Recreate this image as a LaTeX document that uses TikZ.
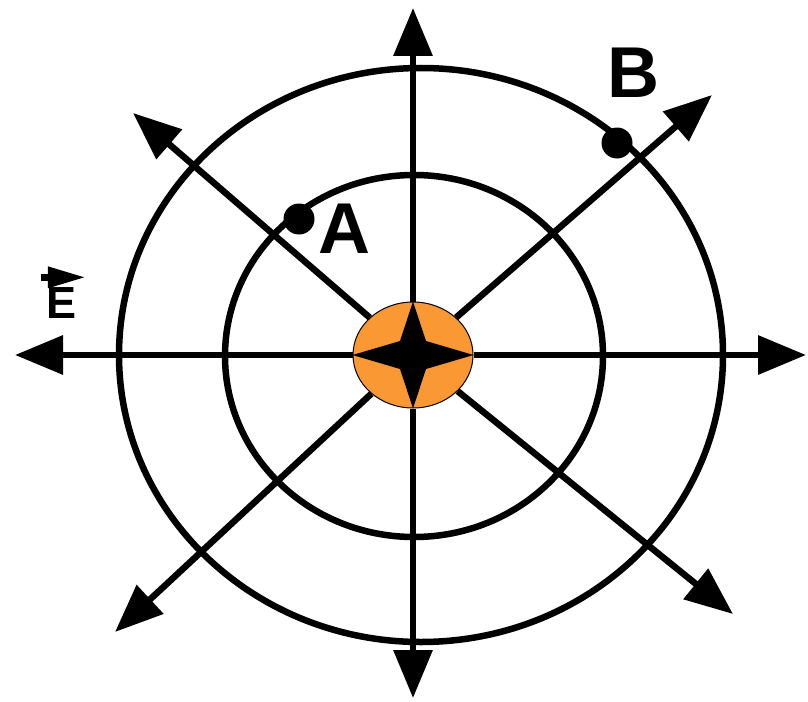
\documentclass[tikz,border=0pt]{standalone}
\usepackage{fontspec}
\setmainfont{Liberation Sans}
\usetikzlibrary{arrows.meta,shapes.geometric}
\begin{document}
\begin{tikzpicture}[x=1pt,y=-1pt,
  ring/.style={line width=6.5pt},
  ray/.style={line width=6.5pt,-{Triangle[length=48pt,width=38pt]}},
  pt/.style={circle,fill=black,inner sep=0pt,minimum size=31pt},
  lbl/.style={inner sep=0pt,font=\fontsize{72}{72}\selectfont\bfseries}]
\useasboundingbox (0,0) rectangle (808,701);
\draw[ring] (421,355) ellipse [x radius=302, y radius=287];
\draw[ring] (414,356) ellipse [x radius=189, y radius=181];
\node[ellipse, draw=black, line width=1pt, fill={rgb,255:red,250;green,152;blue,51},
  inner sep=0pt, minimum width=120pt, minimum height=106pt] (ctr) at (413,355) {};
\coordinate (tipW) at (15,355);
\coordinate (tipE) at (806,355);
\coordinate (tipN) at (413,8);
\coordinate (tipS) at (413,698);
\coordinate (tipNW) at (133,113);
\coordinate (tipNE) at (712,95);
\coordinate (tipSW) at (115,632);
\coordinate (tipSE) at (733,614);
\foreach \t in {tipW,tipE,tipN,tipS,tipNW,tipNE,tipSW,tipSE}
  \draw[ray] (ctr) -- (\t);
\fill (ctr.west) -- (400,341) -- (ctr.north) -- (426,341) -- (ctr.east)
  -- (426,369) -- (ctr.south) -- (400,369) -- cycle;
\node[pt] (dotA) at (299,219) {};
\node[pt] (dotB) at (617,143) {};
\node[lbl] (lblA) at (344,229) {A};
\node[lbl] (lblB) at (633,73) {B};
\node[inner sep=0pt, font=\fontsize{45}{45}\selectfont\bfseries] (lblE) at (62,303) {E};
\draw[line width=6.5pt,-{Triangle[length=38pt,width=20pt]}]
  ([xshift=-6pt,yshift=10pt]lblE.north west) -- ([xshift=39pt,yshift=10pt]lblE.north west);
\end{tikzpicture}
\end{document}
